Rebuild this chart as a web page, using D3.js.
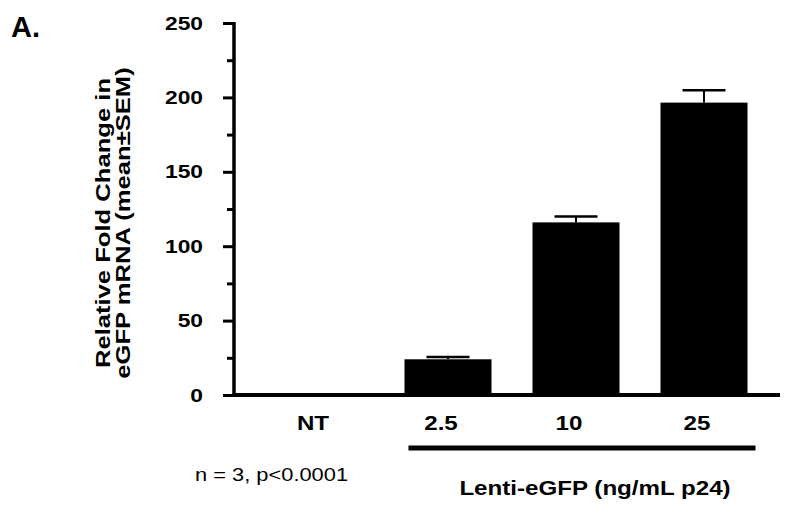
<!DOCTYPE html>
<html>
<head>
<meta charset="utf-8">
<script src="https://cdn.jsdelivr.net/npm/d3@7/dist/d3.min.js"></script>
<style>
  html, body { margin: 0; padding: 0; background: #fff; }
  svg { display: block; }
  text { font-family: "Liberation Sans", Arial, Helvetica, sans-serif; fill: #000; }
</style>
</head>
<body>
<svg id="chart" width="786" height="506"></svg>
<script>
// ---- data ----
const categories = ["NT", "2.5", "10", "25"];
const means = [1, 24, 116, 196.5];
const sems = [0.3, 1.6, 4, 8.3];
const yTicks = [0, 50, 100, 150, 200, 250];
const yMinorTicks = [25, 75, 125, 175, 225];
const yTitleLines = ["Relative Fold Change in", "eGFP mRNA (mean\u00B1SEM)"];
const groupLabel = "Lenti-eGFP (ng/mL p24)";
const groupMembers = ["2.5", "10", "25"];
const note = "n = 3, p<0.0001";
const panelLabel = "A.";

const SX = 1.15;      // horizontal stretch of the lettering
const SX_TICK = 1.2;
const SX_TITLE = 1.22;

const svg = d3.select("#chart");

const x = d3.scaleBand().domain(categories).range([256, 768])
  .paddingInner(0.32).paddingOuter(0.16);
const y = d3.scaleLinear().domain([0, 250]).range([395, 23]);

const axisX = 234;

// baseline
svg.append("line")
  .attr("x1", axisX).attr("x2", 780)
  .attr("y1", y(0)).attr("y2", y(0))
  .attr("stroke", "#000").attr("stroke-width", 4);

// bars
svg.selectAll("rect.bar").data(categories).enter().append("rect")
  .attr("class", "bar")
  .attr("x", d => x(d))
  .attr("width", x.bandwidth())
  .attr("y", (d, i) => y(means[i]))
  .attr("height", (d, i) => y(0) - y(means[i]))
  .attr("fill", "#000");

// error bars
const capW = 43;
categories.forEach((c, i) => {
  if (means[i] < 5) return;
  const cx = x(c) + x.bandwidth() / 2;
  svg.append("line")
    .attr("x1", cx).attr("x2", cx)
    .attr("y1", y(means[i])).attr("y2", y(means[i] + sems[i]))
    .attr("stroke", "#000").attr("stroke-width", 2);
  svg.append("line")
    .attr("x1", cx - capW / 2).attr("x2", cx + capW / 2)
    .attr("y1", y(means[i] + sems[i])).attr("y2", y(means[i] + sems[i]))
    .attr("stroke", "#000").attr("stroke-width", 2.5);
});

// y axis major
const gY = svg.append("g").attr("transform", `translate(${axisX},0)`)
  .call(d3.axisLeft(y).tickValues(yTicks).tickSize(11).tickPadding(20).tickFormat(d3.format("d")));
gY.select(".domain").attr("stroke", "#000").attr("stroke-width", 3.5)
  .attr("d", `M0,${y(250) - 1}V${y(0) + 2}`);
gY.selectAll(".tick line").attr("stroke", "#000").attr("stroke-width", 3);
gY.selectAll(".tick text")
  .attr("x", 0)
  .attr("transform", `translate(-31,0) scale(${SX_TICK},1)`)
  .style("font-size", "19px").style("font-weight", "bold")
  .attr("fill", "#000");

// y axis minor
const gYm = svg.append("g").attr("transform", `translate(${axisX},0)`)
  .call(d3.axisLeft(y).tickValues(yMinorTicks).tickSize(7).tickFormat(""));
gYm.select(".domain").remove();
gYm.selectAll(".tick line").attr("stroke", "#000").attr("stroke-width", 3);

// helper for stretched text
function stretchedText(px, py, str, size, weight, anchor) {
  return svg.append("text")
    .attr("transform", `translate(${px},${py}) scale(${SX},1)`)
    .attr("text-anchor", anchor)
    .style("font-size", size + "px").style("font-weight", weight)
    .text(str);
}

// x labels
categories.forEach(c => {
  stretchedText(x(c) + x.bandwidth() / 2 - 7, 430, c, 21, "bold", "middle");
});

// group line
const gx1 = x(groupMembers[0]) + 4;
const gx2 = x(groupMembers[groupMembers.length - 1]) + x.bandwidth() + 8;
svg.append("line")
  .attr("x1", gx1).attr("x2", gx2)
  .attr("y1", 448).attr("y2", 448)
  .attr("stroke", "#000").attr("stroke-width", 5);

stretchedText(595, 495, groupLabel, 21, "bold", "middle");

// note
stretchedText(195, 481, note, 19, "normal", "start");

// y title
const yt = svg.append("text")
  .attr("transform", `translate(110,223) rotate(-90) scale(${SX_TITLE},1)`)
  .attr("text-anchor", "middle")
  .style("font-size", "21px").style("font-weight", "bold");
yTitleLines.forEach((l, i) => {
  yt.append("tspan").attr("x", 0).attr("dy", i === 0 ? 0 : 20).text(l);
});

// panel label
svg.append("text")
  .attr("x", 11).attr("y", 37)
  .style("font-size", "29px").style("font-weight", "bold")
  .text(panelLabel);
</script>
</body>
</html>
